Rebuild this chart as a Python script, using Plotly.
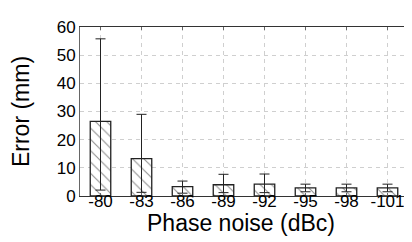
import plotly.graph_objects as go

categories = ["-80", "-83", "-86", "-89", "-92", "-95", "-98", "-101"]
mean_error = [26.5, 13.3, 3.3, 4.0, 4.2, 2.9, 2.9, 2.9]
upper_end = [55.8, 29.0, 5.3, 7.7, 7.8, 4.2, 4.2, 4.2]
lower_end = [2.1, 1.3, 1.0, 1.2, 1.2, 1.5, 1.5, 1.5]
y_ticks = [0, 10, 20, 30, 40, 50, 60]

err_plus = [u - m for u, m in zip(upper_end, mean_error)]
err_minus = [m - l for m, l in zip(mean_error, lower_end)]

font = "Liberation Sans, Arial, sans-serif"

fig = go.Figure(go.Bar(
    x=categories, y=mean_error, width=0.5,
    marker=dict(color="white", line=dict(color="#222", width=1.3),
                pattern=dict(shape="\\", fgcolor="#222", bgcolor="white", size=8, solidity=0.14)),
    error_y=dict(type="data", symmetric=False, array=err_plus, arrayminus=err_minus,
                 color="#222", thickness=1, width=5),
))

fig.update_layout(
    width=412, height=242,
    margin=dict(l=72, r=12, t=10, b=53.5),
    plot_bgcolor="white", paper_bgcolor="white",
    showlegend=False,
    font=dict(family=font, color="black"),
    annotations=[dict(text="Phase noise (dBc)", xref="paper", yref="paper",
                      x=0.49, y=-0.16, xanchor="center", yanchor="middle",
                      showarrow=False, font=dict(size=23))],
)
fig.update_xaxes(
    type="category", range=[-0.5, 7.5],
    showline=True, linecolor="#333", linewidth=1,
    showgrid=True, gridcolor="#cfcfcf", griddash="4px,4px", gridwidth=1,
    ticks="inside", ticklen=3, tickcolor="#666", mirror="ticks",
    ticklabelstandoff=-10,
    tickfont=dict(size=17),
)
fig.update_yaxes(
    range=[0, 60], tickvals=y_ticks,
    showline=True, linecolor="#666", linewidth=1,
    showgrid=True, gridcolor="#cfcfcf", griddash="4px,4px", gridwidth=1,
    zeroline=False, ticks="", tickfont=dict(size=17),
    title=dict(text="Error (mm)", font=dict(size=23), standoff=20),
)

fig.write_html("out.html")
